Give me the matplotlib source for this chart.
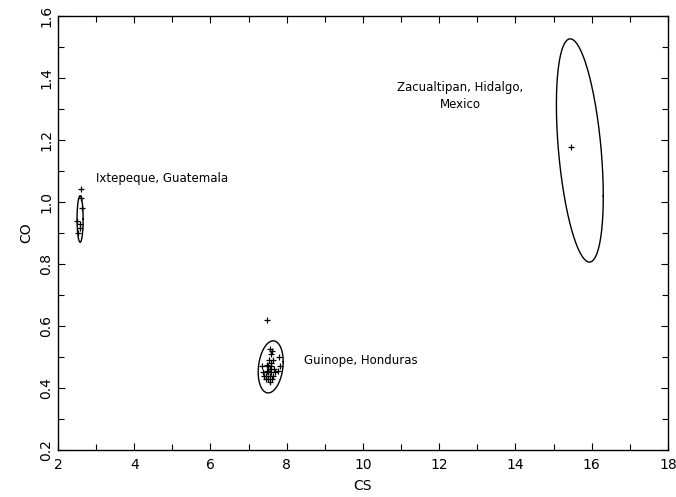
import matplotlib
matplotlib.use('Agg')
import matplotlib.pyplot as plt
import numpy as np

# group ellipses: centre CS, centre CO, half-width CS, half-height CO, correlation
groups = ['Ixtepeque, Guatemala', 'Guinope, Honduras',
          'Zacualtipan, Hidalgo,\nMexico']
ell_cs = [2.58, 7.58, 15.69]
ell_co = [0.945, 0.468, 1.166]
ell_dcs = [0.08, 0.328, 0.615]
ell_dco = [0.075, 0.084, 0.36]
ell_rho = [0.0, 0.2, -0.41]

# label anchors
lab_cs = [3.0, 8.45, 12.55]
lab_co = [1.074, 0.49, 1.342]
lab_ha = ['left', 'left', 'center']

# sample points
ixt_cs = [2.6, 2.6, 2.63, 2.5, 2.58, 2.58, 2.53]
ixt_co = [1.042, 1.013, 0.98, 0.94, 0.93, 0.917, 0.90]
gui_cs = [7.49, 7.55, 7.62, 7.6, 7.8, 7.82, 7.78, 7.35, 7.38, 7.45, 7.5, 7.55,
          7.6, 7.5, 7.55, 7.6, 7.65, 7.58, 7.52, 7.48, 7.62, 7.57, 7.45, 7.67,
          7.7, 7.53, 7.63, 7.4, 7.47]
gui_co = [0.62, 0.525, 0.52, 0.51, 0.50, 0.47, 0.455, 0.47, 0.45, 0.44, 0.45,
          0.46, 0.47, 0.43, 0.44, 0.45, 0.44, 0.48, 0.47, 0.455, 0.43, 0.42,
          0.43, 0.46, 0.45, 0.49, 0.49, 0.44, 0.475]
zac_cs = [15.46]
zac_co = [1.177]

plt.rcParams['font.family'] = ['DejaVu Sans']
fig = plt.figure(figsize=(6.76, 4.97), dpi=100)
ax = fig.add_axes([0.0858, 0.0946, 0.9022, 0.8734])

t = np.linspace(0, 2 * np.pi, 300)
for cx, cy, sx, sy, r in zip(ell_cs, ell_co, ell_dcs, ell_dco, ell_rho):
    ex = cx + sx * np.cos(t)
    ey = cy + sy * (r * np.cos(t) + np.sqrt(1 - r ** 2) * np.sin(t))
    ax.plot(ex, ey, color='black', lw=1.0)

for xs, ys in [(ixt_cs, ixt_co), (gui_cs, gui_co), (zac_cs, zac_co)]:
    ax.plot(xs, ys, '+', color='black', ms=5, mew=0.9)

for name, x, y, ha in zip(groups, lab_cs, lab_co, lab_ha):
    ax.text(x, y, name, ha=ha, va='center', fontsize=8.5,
            multialignment='center', linespacing=1.4)

ax.set_xlim(2, 18)
ax.set_ylim(0.2, 1.6)
ax.set_xticks(np.arange(2, 19, 2))
ax.set_xticks(np.arange(3, 18, 2), minor=True)
ax.set_yticks(np.arange(0.2, 1.61, 0.2))
ax.set_yticks(np.arange(0.3, 1.6, 0.2), minor=True)
ax.set_yticklabels(['%.1f' % v for v in np.arange(0.2, 1.61, 0.2)],
                   rotation=90, va='center')
ax.tick_params(which='both', direction='in', top=True, right=True,
               labelsize=10, width=0.8)
ax.tick_params(axis='x', pad=6)
ax.tick_params(which='major', length=5)
ax.tick_params(which='minor', length=4)
ax.set_xlabel('CS', fontsize=10, labelpad=5)
ax.set_ylabel('CO', fontsize=10, labelpad=4)
for s in ax.spines.values():
    s.set_linewidth(1.0)

fig.savefig('out.png', dpi=100)
